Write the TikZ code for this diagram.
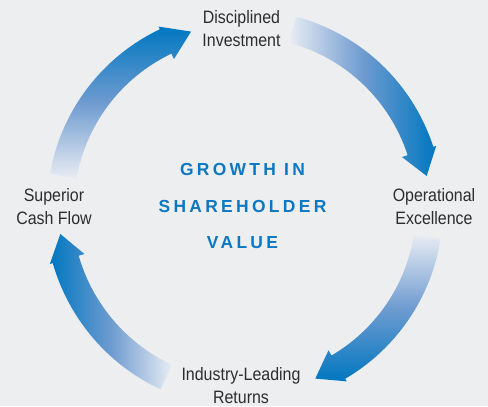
\documentclass[tikz,border=0pt]{standalone}
\usepackage{fontspec}
\setmainfont{Liberation Sans}
\newfontfamily\labelfont[FakeStretch=0.89]{Liberation Sans}
\newfontfamily\centerfont[LetterSpace=19]{Liberation Sans}
\definecolor{bgcol}{RGB}{237,238,240}
\definecolor{arrowblue}{RGB}{0,119,192}
\definecolor{arrowmid}{RGB}{110,155,208}
\definecolor{arrowpale}{RGB}{232,236,243}
\definecolor{titleblue}{RGB}{10,120,195}
\definecolor{labelgray}{RGB}{45,45,45}
% #1 shading, #2 tail angle, #3 head base angle, #4 tip angle, #5 inner radius, #6 outer radius
\newcommand{\cycarrow}[6]{%
  \shade[#1] (#2:#6) arc[start angle=#2, end angle=#3, radius=#6]
    -- (#3:{#6+3}) -- (#4:{(#5+#6)/2}) -- (#3:{#5-6}) -- (#3:#5)
    arc[start angle=#3, end angle=#2, radius=#5] -- cycle;}
\begin{document}
\begin{tikzpicture}[x=1bp,y=1bp,
  lbl/.style={font=\labelfont\fontsize{18}{23.5}\selectfont, text=labelgray,
    align=center, inner sep=0pt, outer sep=0pt, anchor=north},
  ttl/.style={font=\centerfont\bfseries\fontsize{17.5}{37}\selectfont, text=titleblue,
    align=center, inner sep=0pt, outer sep=0pt, anchor=north}]
\fill[bgcol] (0,0) rectangle (488,-406);
\useasboundingbox (0,0) rectangle (488,-406);
\begin{scope}[shift={(245,-208)}]
\cycarrow{top color=arrowblue,bottom color=arrowpale,middle color=arrowmid}{170}{115.5}{107}{171}{198}
\cycarrow{left color=arrowpale,right color=arrowblue,middle color=arrowmid}{75}{18}{10}{171}{198}
\cycarrow{top color=arrowpale,bottom color=arrowblue,middle color=arrowmid}{-9}{-59.6}{-67.6}{171}{198}
\cycarrow{left color=arrowblue,right color=arrowpale,middle color=arrowmid}{245}{196}{188}{173}{200}
\end{scope}
\node[lbl] (disc) at (241.5,-10.5) {Disciplined\\Investment};
\node[lbl] (oper) at (434,-188) {Operational\\Excellence};
\node[lbl] (indu) at (241,-367) {Industry-Leading\\Returns};
\node[lbl] (supe) at (54,-188) {Superior\\Cash Flow};
\node[ttl] (title) at (242.5,-163) {GROWTH IN\\SHAREHOLDER\\VALUE};
\end{tikzpicture}
\end{document}
